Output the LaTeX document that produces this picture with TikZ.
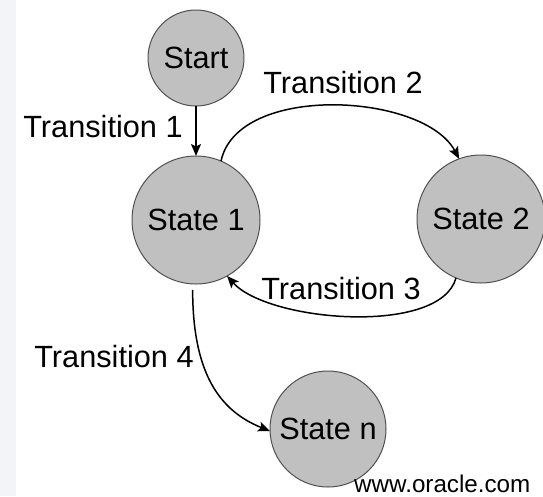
\documentclass[tikz,border=0pt]{standalone}
\usepackage{fontspec}
\setmainfont{Liberation Sans}
\usetikzlibrary{arrows.meta}
\definecolor{stripcol}{HTML}{F3F4F8}
\definecolor{statefill}{HTML}{C0C0C0}
\definecolor{stateline}{HTML}{505050}
\begin{document}
\begin{tikzpicture}[x=1pt,y=1pt,
  state/.style={circle, draw=stateline, fill=statefill, line width=1pt, inner sep=0pt, outer sep=0pt,
    font=\fontsize{30.7}{36}\selectfont},
  lab/.style={inner sep=0pt, font=\fontsize{30.7}{36}\selectfont},
  arr/.style={-{Stealth[length=12pt,width=10pt,inset=2.5pt]}, line width=1.5pt, black}]
\useasboundingbox (0,0) rectangle (543,-496);
\fill[stripcol] (0,0) rectangle (16,-496);
% states
\node[state, minimum size=96pt] (start) at (196,-58) {Start};
\node[state, minimum size=128pt] (s1) at (196,-220) {State 1};
\node[state, minimum size=128pt] (s2) at (481,-219) {State 2};
\node[state, minimum size=116pt] (sn) at (328,-429) {State n};
% transitions
\draw[arr] (start) -- (s1);
\draw[arr] (s1.67) .. controls +(78:80) and +(118:75) .. (s2.110);
\draw[arr] (s2.-113) .. controls +(-105:60) and +(-48:62) .. (s1.-61);
\draw[arr, shorten <=6pt] (s1.-93) .. controls +(0,-90) and +(-50,20) .. (sn.182);
% labels
\node[lab] (l1) at (103,-127) {Transition 1};
\node[lab] (l2) at (343,-83) {Transition 2};
\node[lab] (l3) at (341,-289) {Transition 3};
\node[lab] (l4) at (114,-357) {Transition 4};
\node[inner sep=0pt, anchor=base west, font=\fontsize{24.2}{28}\selectfont] (www) at (354,-492) {www.oracle.com};
\end{tikzpicture}
\end{document}
